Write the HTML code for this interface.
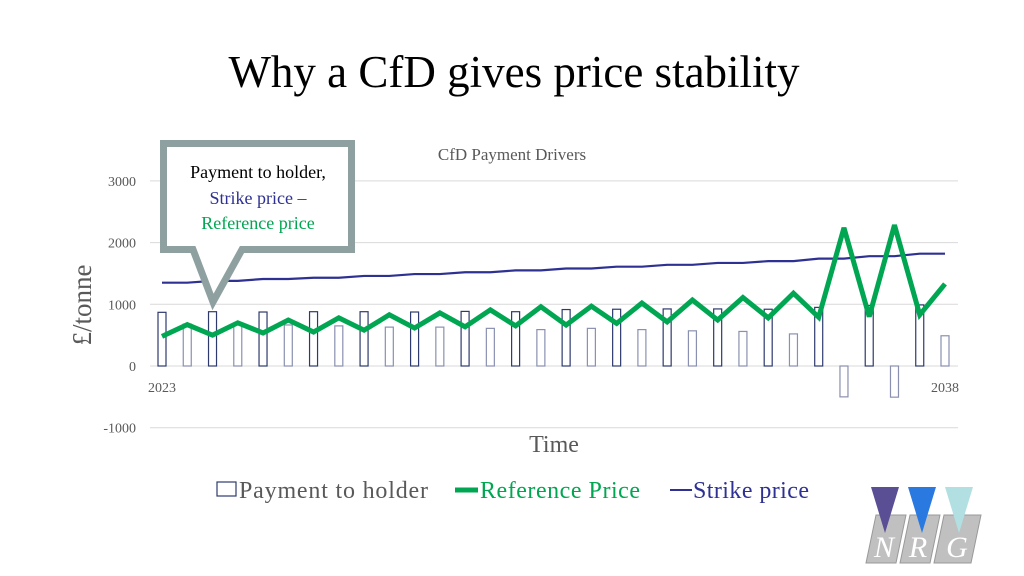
<!DOCTYPE html>
<html><head><meta charset="utf-8"><style>
body{margin:0;background:#fff;}
svg{display:block;font-family:"Liberation Serif",serif;}
</style></head><body>
<svg id="c" width="1024" height="576" viewBox="0 0 1024 576">
<text x="514" y="87" text-anchor="middle" font-size="45" fill="#000">Why a CfD gives price stability</text>
<text x="512" y="160" text-anchor="middle" font-size="17" fill="#595959">CfD Payment Drivers</text>
<g id="grid"></g>
<g id="yt"></g>
<text transform="translate(91,305) rotate(-90)" text-anchor="middle" font-size="27" fill="#595959">£/tonne</text>
<text x="554" y="452" text-anchor="middle" font-size="24" fill="#595959">Time</text>
<g id="bars"></g>
<path id="strike" fill="none" stroke="#2e3192" stroke-width="2.2"/>
<path id="ref" fill="none" stroke="#00a651" stroke-width="5" stroke-linejoin="miter" stroke-miterlimit="2.5"/>
<text x="162" y="392" text-anchor="middle" font-size="14" fill="#595959">2023</text>
<text x="945" y="392" text-anchor="middle" font-size="14" fill="#595959">2038</text>
<g>
<path d="M163.5,143.5 H351.5 V249.5 H242 L213,302 L193,249.5 H163.5 Z" fill="#fff" stroke="#8fa0a0" stroke-width="7"/>
<text x="258" y="178" text-anchor="middle" font-size="18" fill="#000">Payment to holder,</text>
<text x="258" y="204" text-anchor="middle" font-size="18" fill="#2e3192">Strike price –</text>
<text x="258" y="229" text-anchor="middle" font-size="18" fill="#00a651">Reference price</text>
</g>
<g>
<rect x="217" y="482" width="19" height="14" fill="#fff" stroke="#2e3a6e" stroke-width="1.2"/>
<text x="239" y="498" font-size="24" fill="#595959" textLength="189">Payment to holder</text>
<line x1="455" y1="490" x2="478" y2="490" stroke="#00a651" stroke-width="5"/>
<text x="480" y="498" font-size="24" fill="#00a651" textLength="160">Reference Price</text>
<line x1="670" y1="490" x2="692" y2="490" stroke="#2e3192" stroke-width="2"/>
<text x="693" y="498" font-size="24" fill="#2e3192" textLength="116">Strike price</text>
</g>
<g>
<polygon points="876,515 906,515 896,563 866,563" fill="#c0c0c0" stroke="#999"/>
<polygon points="910,515 940,515 930,563 900,563" fill="#c0c0c0" stroke="#999"/>
<polygon points="944,515 981,515 971,563 934,563" fill="#c0c0c0" stroke="#999"/>
<polygon points="871,487 899,487 885,533" fill="#5a4e94"/>
<polygon points="908,487 936,487 922,533" fill="#2a79e0"/>
<polygon points="945,487 973,487 959,533" fill="#b2e0e2"/>
<text x="884" y="557" text-anchor="middle" font-size="30" font-style="italic" fill="#fff">N</text>
<text x="918" y="557" text-anchor="middle" font-size="30" font-style="italic" fill="#fff">R</text>
<text x="957" y="557" text-anchor="middle" font-size="30" font-style="italic" fill="#fff">G</text>
</g>
</svg>
<script>
const yTicks=[3000,2000,1000,0,-1000];
const yTickLabels=["3000","2000","1000","0","-1000"];
const strike=[1350,1350,1380,1380,1410,1410,1430,1430,1460,1460,1490,1490,1520,1520,1550,1550,1580,1580,1610,1610,1640,1640,1670,1670,1700,1700,1740,1740,1780,1780,1820,1820];
const reference=[480,670,500,700,535,745,550,780,580,830,615,860,635,910,650,960,665,970,690,1020,715,1070,745,1110,780,1180,790,2240,800,2285,830,1330];
const payment=[870,680,880,680,875,665,880,650,880,630,875,630,885,610,880,590,915,610,920,590,925,570,925,560,920,520,950,-500,980,-505,990,490];
const NS="http://www.w3.org/2000/svg";
function y(v){return 366-v*0.0617;}
function x(i){return 162+i*(945-162)/(strike.length-1);}
const grid=document.getElementById('grid'),yt=document.getElementById('yt');
yTicks.forEach((t,k)=>{
 const l=document.createElementNS(NS,'line');
 l.setAttribute('x1',150);l.setAttribute('x2',958);l.setAttribute('y1',y(t));l.setAttribute('y2',y(t));
 l.setAttribute('stroke','#d9d9d9');l.setAttribute('stroke-width',1);
 
 
 grid.appendChild(l);
 const tx=document.createElementNS(NS,'text');
 tx.setAttribute('x',136);tx.setAttribute('y',y(t)+5);tx.setAttribute('text-anchor','end');
 tx.setAttribute('font-size',14);tx.setAttribute('fill','#595959');tx.textContent=yTickLabels[k];
 
 
 yt.appendChild(tx);
});
const bars=document.getElementById('bars');
payment.forEach((v,i)=>{
 const r=document.createElementNS(NS,'rect');
 const y0=y(0),y1=y(v);
 r.setAttribute('x',x(i)-4);r.setAttribute('width',8);
 r.setAttribute('y',Math.min(y0,y1));r.setAttribute('height',Math.abs(y1-y0));
 r.setAttribute('fill','#fff');r.setAttribute('stroke',i%2?'#8a90b0':'#2e3a6e');r.setAttribute('stroke-width',1.2);
 
 
 bars.appendChild(r);
});
document.getElementById('strike').setAttribute('d',strike.map((v,i)=>(i?'L':'M')+x(i)+','+y(v)).join(''));
document.getElementById('ref').setAttribute('d',reference.map((v,i)=>(i?'L':'M')+x(i)+','+y(v)).join(''));
</script>
</body></html>
